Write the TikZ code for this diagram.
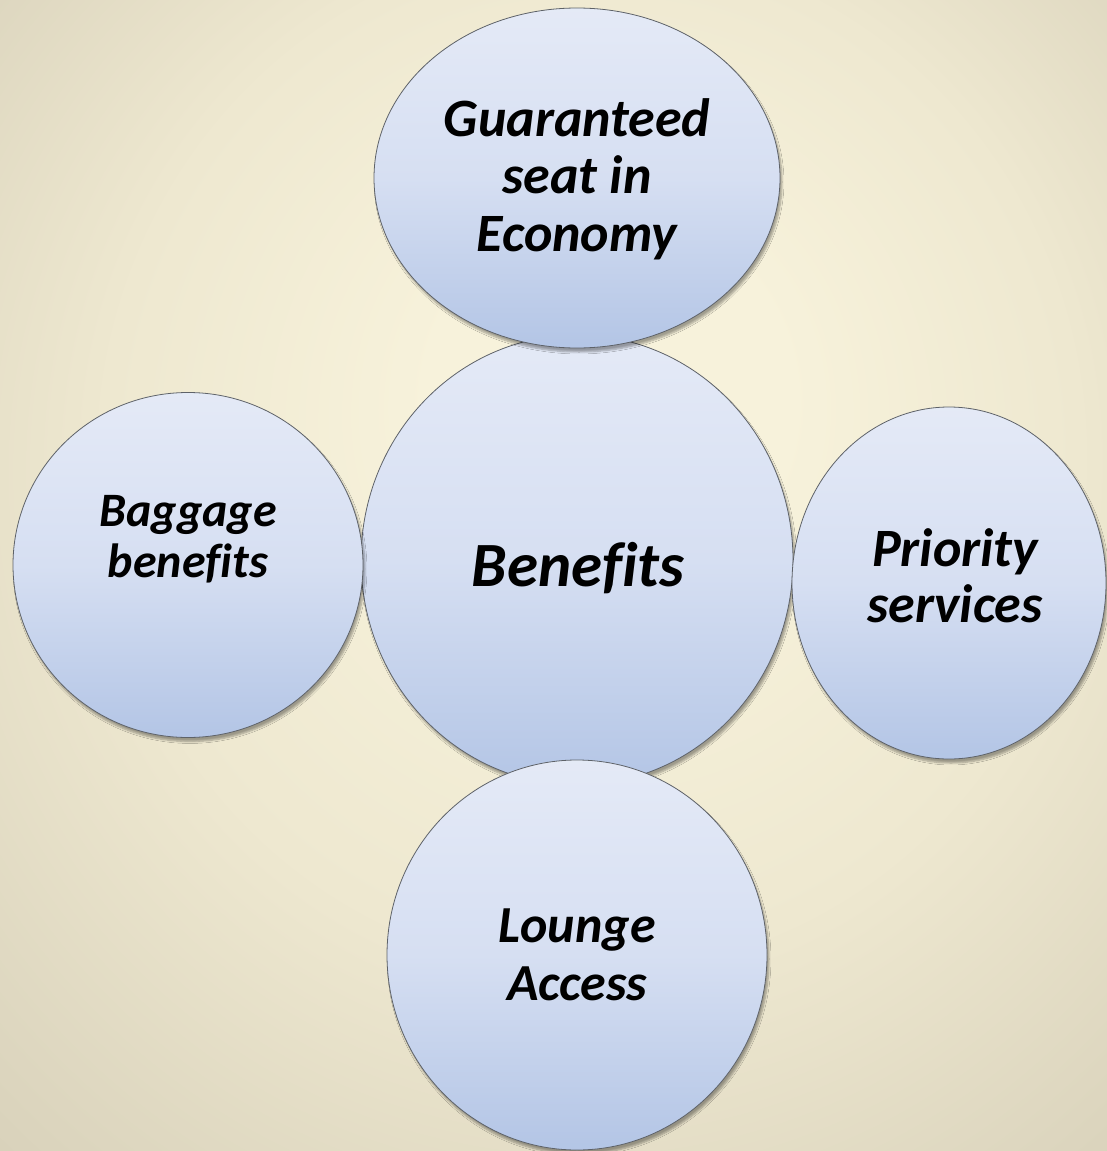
\documentclass[tikz,border=0pt]{standalone}
\usepackage{fontspec}
\setmainfont{Carlito}[Ligatures=CommonOff]
\usetikzlibrary{shapes.geometric,shadows.blur}
\definecolor{bglight}{HTML}{F7F2DB}
\definecolor{bgmid}{HTML}{EEE8D0}
\definecolor{bgmid2}{HTML}{DAD3BC}
\definecolor{bgdark}{HTML}{C3BCA6}
\definecolor{bubtop}{HTML}{E6EBF7}
\definecolor{bubmid}{HTML}{D6DFF2}
\definecolor{bubbot}{HTML}{AFC2E4}
\definecolor{bubline}{HTML}{5E6268}
\pgfdeclareradialshading{bgshade}{\pgfpoint{3bp}{9bp}}{color(0bp)=(bglight); color(8bp)=(bglight); color(22bp)=(bgmid); color(37bp)=(bgmid2); color(52bp)=(bgdark)}
\pgfdeclareverticalshading{bub}{100bp}{color(0bp)=(bubbot); color(22bp)=(bubbot); color(50bp)=(bubmid); color(78bp)=(bubtop); color(100bp)=(bubtop)}
\begin{document}
\begin{tikzpicture}[x=1pt,y=-1pt,
  bubble/.style={ellipse, draw=bubline, line width=0.8pt, shading=bub, inner sep=0pt,
    blur shadow={shadow xshift=2pt, shadow yshift=-4pt, shadow blur steps=6, shadow opacity=35}},
  txt/.style={align=center, text=black, inner sep=0pt}]
\path[shading=bgshade] (0,0) rectangle (1107,1151);
\useasboundingbox (0,0) rectangle (1107,1151);
% bubbles
\node[bubble, minimum width=432pt, minimum height=450pt] (center) at (577,560) {};
\node[bubble, minimum width=350pt, minimum height=345pt] (left) at (188,565) {};
\node[bubble, minimum width=314pt, minimum height=352pt] (right) at (949,583) {};
\node[bubble, minimum width=406pt, minimum height=340pt] (top) at (577,178) {};
\node[bubble, minimum width=380pt, minimum height=390pt] (bottom) at (577,955) {};
% texts
\node[txt, font=\fontsize{54}{57.5}\selectfont\bfseries\itshape] (toptxt) at (577,179) {Guaranteed\\seat in\\Economy};
\node[txt, font=\fontsize{63}{66}\selectfont\bfseries\itshape] (centertxt) at (578,568) {Benefits};
\node[txt, font=\fontsize{48}{51}\selectfont\bfseries\itshape] (lefttxt) at (188,539) {Baggage\\benefits};
\node[txt, font=\fontsize{54}{56}\selectfont\bfseries\itshape] (righttxt) at (955,576) {Priority\\services};
\node[txt, font=\fontsize{52}{58}\selectfont\bfseries\itshape] (bottomtxt) at (577,955) {Lounge\\Access};
\end{tikzpicture}
\end{document}
